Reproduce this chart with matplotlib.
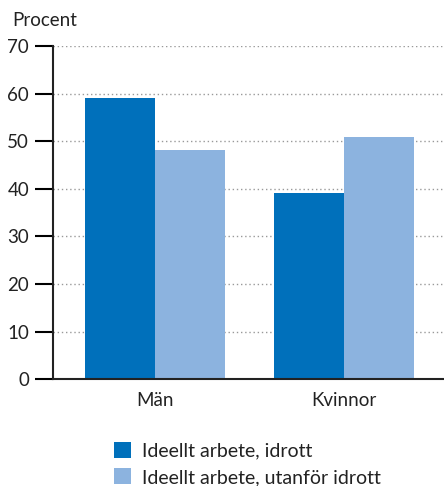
import matplotlib.pyplot as plt
import numpy as np

plt.rcParams['font.family'] = ['Lato', 'DejaVu Sans']

categories = ['Män', 'Kvinnor']
idrott = [59.1, 39.1]
utanfor = [48.1, 50.8]
series_names = ['Ideellt arbete, idrott', 'Ideellt arbete, utanför idrott']
yticks = [0, 10, 20, 30, 40, 50, 60, 70]

dark = '#0070bb'
light = '#8cb3df'

fig = plt.figure(figsize=(4.44, 4.86), dpi=100)
ax = fig.add_axes([0.119, 0.220, 0.881, 0.685])

x = np.arange(len(categories))
w = 0.37
b1 = ax.bar(x - w / 2, idrott, w, color=dark, zorder=2)
b2 = ax.bar(x + w / 2, utanfor, w, color=light, zorder=2)

ax.set_xlim(-0.54, 1.53)
ax.set_ylim(0, 70)
ax.set_yticks(yticks)
ax.set_xticks(x)
ax.set_xticklabels(categories, fontsize=13.5, color='#222222')
ax.tick_params(axis='x', length=0, pad=9)
ax.tick_params(axis='y', length=13, width=1.5, labelsize=13.5, pad=4, labelcolor='#222222')
ax.yaxis.grid(True, linestyle=(0, (1, 2)), color='#999999', linewidth=1, zorder=0)

for s in ['top', 'right']:
    ax.spines[s].set_visible(False)
ax.spines['left'].set_linewidth(1.5)
ax.spines['bottom'].set_linewidth(1.5)
ax.spines['left'].set_color('#222222')
ax.spines['bottom'].set_color('#222222')

fig.text(0.027, 0.958, 'Procent', fontsize=13.5, color='#222222', va='center')

fig.legend([b1, b2], series_names, loc='upper left', bbox_to_anchor=(0.257, 0.09),
           frameon=False, fontsize=14, handlelength=0.85, handleheight=0.85,
           handletextpad=0.6, labelspacing=0.45, borderpad=0, borderaxespad=0,
           labelcolor='#222222')

fig.savefig('out.png', dpi=100)
